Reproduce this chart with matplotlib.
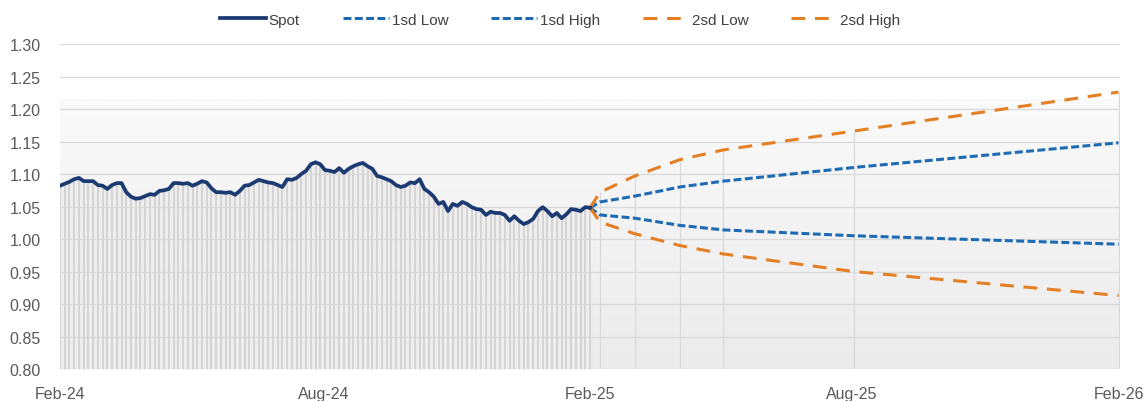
import numpy as np
import matplotlib
matplotlib.use("Agg")
import matplotlib.pyplot as plt
import matplotlib.dates as mdates
from matplotlib.colors import LinearSegmentedColormap
from datetime import date

# ---- datos ----
spot_start, spot_end = date(2024, 2, 1), date(2025, 2, 1)
spot = [1.082, 1.085, 1.088, 1.092, 1.094, 1.089, 1.089, 1.089, 1.083, 1.082,
        1.077, 1.083, 1.086, 1.086, 1.072, 1.065, 1.062, 1.063, 1.066, 1.069,
        1.068, 1.074, 1.075, 1.077, 1.086, 1.086, 1.085, 1.086, 1.082,
        1.085, 1.089, 1.087, 1.078, 1.072, 1.072, 1.071, 1.072, 1.068, 1.074,
        1.082, 1.083, 1.087, 1.091, 1.089, 1.087, 1.086, 1.083, 1.080, 1.092,
        1.091, 1.094, 1.100, 1.105, 1.115, 1.118, 1.115, 1.106,
        1.105, 1.103, 1.109, 1.102, 1.108, 1.112, 1.115, 1.117, 1.112, 1.108,
        1.097, 1.095, 1.092, 1.089, 1.083, 1.080, 1.082, 1.087, 1.086, 1.092,
        1.077, 1.072, 1.065, 1.054, 1.057, 1.043, 1.054, 1.051,
        1.057, 1.054, 1.049, 1.046, 1.045, 1.037, 1.042, 1.040, 1.040, 1.037,
        1.028, 1.035, 1.028, 1.023, 1.026, 1.031, 1.043, 1.049, 1.043, 1.035,
        1.040, 1.032, 1.038, 1.046, 1.045, 1.043, 1.049, 1.048]

fc_dates = [date(2025, 2, 1), date(2025, 2, 8), date(2025, 3, 4), date(2025, 4, 4),
            date(2025, 5, 4), date(2025, 8, 2), date(2026, 2, 1)]
sd1_low  = [1.048, 1.037, 1.032, 1.021, 1.014, 1.005, 0.992]
sd1_high = [1.048, 1.057, 1.066, 1.080, 1.089, 1.110, 1.148]
sd2_low  = [1.048, 1.026, 1.008, 0.990, 0.977, 0.950, 0.913]
sd2_high = [1.048, 1.072, 1.097, 1.122, 1.137, 1.166, 1.226]

# ---- estilo ----
NAVY, BLUE, ORANGE = "#1c3a72", "#1f6bb3", "#e47f24"
GRID, TXT = "#d9d9d9", "#595959"
plt.rcParams.update({"font.family": ["Liberation Sans", "DejaVu Sans"],
                     "font.size": 11})

fig = plt.figure(figsize=(11.47, 4.02), dpi=100)
ax = fig.add_axes([60/1147, 32/402, 1060/1147, 325/402])

x_spot = np.linspace(mdates.date2num(spot_start), mdates.date2num(spot_end), len(spot))
x_fc = mdates.date2num(fc_dates)
x0, x1 = mdates.date2num(date(2024, 2, 1)), mdates.date2num(date(2026, 2, 2))

# fondo degradado (gris claro abajo)
cmap = LinearSegmentedColormap.from_list("bg", ["#ebebeb", "#fafafa"])
grad = np.linspace(0, 1, 256).reshape(-1, 1)
ax.imshow(grad, extent=[x0, x1, 0.8, 1.215], origin="lower", aspect="auto",
          cmap=cmap, zorder=0)

# barras verticales bajo el spot y bajo el pronóstico
ax.fill_between(x_spot, 0.8, spot, color="#eeeeee", lw=0, zorder=1)
ax.vlines(x_spot, 0.8, spot, color="#d2d2d2", lw=1.3, zorder=1)
ax.vlines(x_fc[1:], 0.8, sd2_high[1:], color=GRID, lw=0.9, zorder=1)

for yv in np.arange(0.80, 1.301, 0.05):
    ax.axhline(yv, color=GRID, lw=0.9, zorder=1.5)

ax.plot(x_spot, spot, color=NAVY, lw=2.7, zorder=5, label="Spot",
        solid_joinstyle="round")
ax.plot(x_fc, sd1_low, color=BLUE, lw=2.2, ls=(0, (2.6, 1.1)), zorder=4, label="1sd Low")
ax.plot(x_fc, sd1_high, color=BLUE, lw=2.2, ls=(0, (2.6, 1.1)), zorder=4, label="1sd High")
ax.plot(x_fc, sd2_low, color=ORANGE, lw=2.2, ls=(0, (4.5, 3.2)), zorder=4, label="2sd Low")
ax.plot(x_fc, sd2_high, color=ORANGE, lw=2.2, ls=(0, (4.5, 3.2)), zorder=4, label="2sd High")

ax.set_xlim(x0, x1)
ax.set_ylim(0.8, 1.30)
ax.set_yticks(np.arange(0.80, 1.301, 0.05))
ax.yaxis.set_major_formatter(plt.FormatStrFormatter("%.2f"))
ax.xaxis.set_major_locator(mdates.MonthLocator(bymonth=[2, 8]))
ax.xaxis.set_major_formatter(mdates.DateFormatter("%b-%y"))
ax.tick_params(length=0, colors=TXT, labelsize=11.5)
ax.tick_params(axis="x", pad=12)
ax.tick_params(axis="y", pad=14)
for sp in ax.spines.values():
    sp.set_visible(False)

fig.legend(loc="upper center", bbox_to_anchor=(560/1147, 1.0), ncol=5,
           frameon=False, handlelength=3.0, handletextpad=0.2,
           columnspacing=2.8, labelcolor="#404040",
           prop={"family": ["Liberation Sans Narrow", "Liberation Sans"], "size": 11})

fig.savefig("out.png", dpi=100, facecolor="white")
